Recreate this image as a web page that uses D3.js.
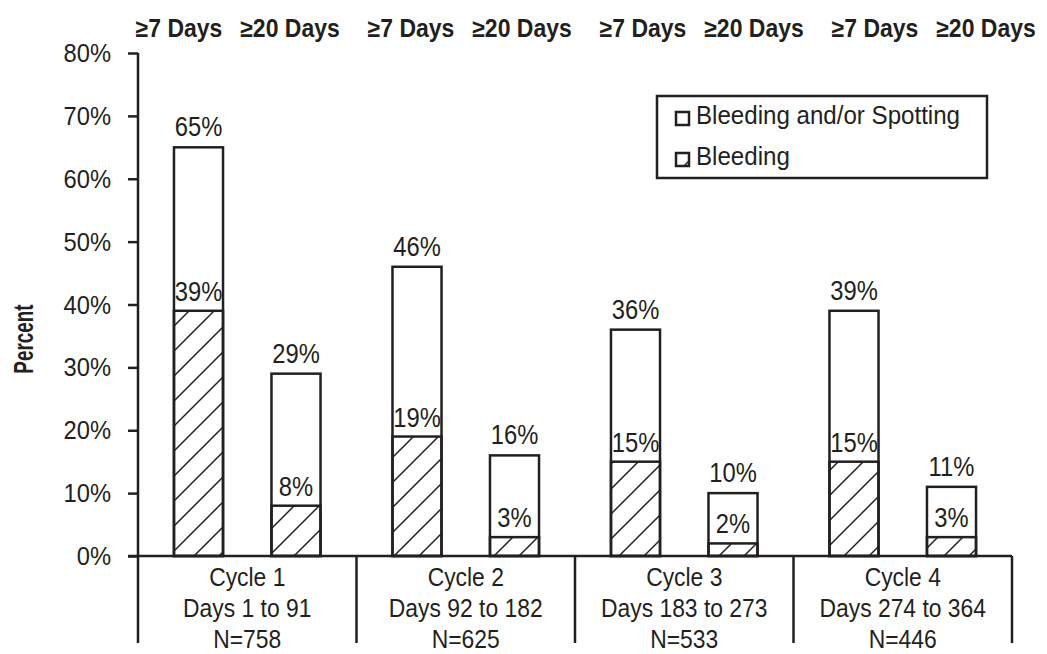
<!DOCTYPE html>
<html><head><meta charset="utf-8">
<script src="https://cdn.jsdelivr.net/npm/d3@7"></script>
<style>
body{margin:0;background:#fff;}
text{font-family:"Liberation Sans Narrow","Arial Narrow","Liberation Sans",Arial,sans-serif;fill:#231f20;}
</style></head>
<body><svg id="c" width="1047" height="654"></svg>
<script>
const cycles = ["Cycle 1","Cycle 2","Cycle 3","Cycle 4"];
const dayRanges = ["Days 1 to 91","Days 92 to 182","Days 183 to 273","Days 274 to 364"];
const nLabels = ["N=758","N=625","N=533","N=446"];
const durations = ["≥7 Days","≥20 Days"];
const spotting7 = [65,46,36,39];
const spotting20 = [29,16,10,11];
const bleeding7 = [39,19,15,15];
const bleeding20 = [8,3,2,3];
const yTicks = [0,10,20,30,40,50,60,70,80];
const legendLabels = ["Bleeding and/or Spotting","Bleeding"];

const rows = [];
cycles.forEach((c,i)=>{
  rows.push({cycle:c, dur:durations[0], total:spotting7[i], bleed:bleeding7[i]});
  rows.push({cycle:c, dur:durations[1], total:spotting20[i], bleed:bleeding20[i]});
});

const svg = d3.select("#c");
const ink = "#231f20";
const defs = svg.append("defs");
const pat = defs.append("pattern").attr("id","hatch").attr("patternUnits","userSpaceOnUse")
  .attr("width",25).attr("height",25);
pat.append("path").attr("d","M-6,6 L6,-6 M0,25 L25,0 M19,31 L31,19")
  .attr("stroke",ink).attr("stroke-width",1.5);

// condensed text helper
function txt(parent, x, y, s, size, sx, anchor, bold){
  return parent.append("text")
    .attr("transform",`translate(${x},${y}) scale(${sx},1)`)
    .attr("text-anchor",anchor||"middle").attr("font-size",size)
    .attr("font-weight",bold?"bold":null).text(s);
}

const x0 = d3.scaleBand().domain(cycles).range([138,1012]);
const x1 = d3.scaleBand().domain(durations).range([0,x0.bandwidth()]).paddingInner(0.497).paddingOuter(0.369);
const y = d3.scaleLinear().domain([0,80]).range([556,53]);
// header labels have their own spacing
const hx0 = d3.scaleBand().domain(cycles).range([123,1051]);
const hx1 = d3.scalePoint().domain(durations).range([56,167]);

// y axis ticks
const yAxis = d3.axisLeft(y).tickValues(yTicks).tickFormat("").tickSize(10).tickSizeOuter(0);
const ga = svg.append("g").attr("transform","translate(138,0)").call(yAxis);
ga.select(".domain").remove();
ga.selectAll(".tick line").attr("stroke",ink).attr("stroke-width",2.5);
yTicks.forEach(t=>txt(svg,111,y(t)+9,t+"%",25,0.95,"end"));
svg.append("line").attr("x1",138).attr("x2",138).attr("y1",y(80)).attr("y2",643)
  .attr("stroke",ink).attr("stroke-width",2.5);

svg.append("text").attr("transform","translate(33,339) rotate(-90) scale(0.7,1)")
  .attr("text-anchor","middle").attr("font-size",27).attr("font-weight","bold").text("Percent");

// bars
const g = svg.append("g");
rows.forEach(r=>{
  const bx = x0(r.cycle)+x1(r.dur), bw = x1.bandwidth();
  g.append("rect").attr("x",bx).attr("y",y(r.total)).attr("width",bw).attr("height",y(0)-y(r.total))
    .attr("fill","#fff").attr("stroke",ink).attr("stroke-width",2.5);
  g.append("rect").attr("x",bx).attr("y",y(r.bleed)).attr("width",bw).attr("height",y(0)-y(r.bleed))
    .attr("fill","url(#hatch)").attr("stroke",ink).attr("stroke-width",2.5);
  txt(g,bx+bw/2,y(r.total)-11,r.total+"%",27,0.88);
  txt(g,bx+bw/2,y(r.bleed)-10,r.bleed+"%",27,0.88);
});

// top duration labels
cycles.forEach(c=>{
  durations.forEach(d=>{
    txt(svg,hx0(c)+hx1(d),37,d,25,0.92,"middle",true);
  });
});

// baseline & category separators
svg.append("line").attr("x1",128).attr("x2",1012).attr("y1",556).attr("y2",556)
  .attr("stroke",ink).attr("stroke-width",2.5);
cycles.forEach((c,i)=>{
  const xe = x0(c)+x0.bandwidth();
  svg.append("line").attr("x1",xe).attr("x2",xe).attr("y1",556).attr("y2",643)
    .attr("stroke",ink).attr("stroke-width",2.5);
  const cx = x0(c)+x0.bandwidth()/2;
  [cycles[i],dayRanges[i],nLabels[i]].forEach((t,k)=>{
    txt(svg,cx,586+k*31,t,26,0.88);
  });
});

// legend
const lg = svg.append("g");
lg.append("rect").attr("x",657).attr("y",96).attr("width",330).attr("height",82)
  .attr("fill","#fff").attr("stroke",ink).attr("stroke-width",2.5);
const fills = ["#fff","url(#hatch)"];
legendLabels.forEach((t,i)=>{
  const yy = 112 + i*41;
  lg.append("rect").attr("x",676).attr("y",yy).attr("width",13).attr("height",13)
    .attr("fill",fills[i]).attr("stroke",ink).attr("stroke-width",2.5);
  txt(lg,696,yy+12,t,25,0.965,"start");
});
</script></body></html>
